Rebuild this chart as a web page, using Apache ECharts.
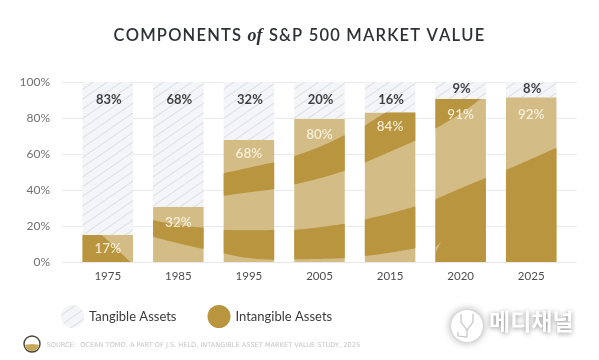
<!DOCTYPE html>
<html>
<head>
<meta charset="utf-8">
<title>Components of S&amp;P 500 Market Value</title>
<style>
  html, body { margin: 0; padding: 0; background: #fff; }
  #chart { width: 599px; height: 360px; }
</style>
<script src="https://cdn.jsdelivr.net/npm/echarts@6/dist/echarts.min.js"></script>
</head>
<body>
<div id="chart"></div>
<script>
const years = ["1975", "1985", "1995", "2005", "2015", "2020", "2025"];
const yTicks = [0, 20, 40, 60, 80, 100];

// drawn height of the gold part of each bar, the printed labels differ a little
const intangibleHeights = [15, 30.7, 67.8, 79.6, 83.1, 90.5, 91.5];
const tangibleHeights = [85, 69.3, 32.2, 20.4, 16.9, 9.5, 8.5];

const intangibleLabels = [17, 32, 68, 80, 84, 91, 92];
const tangibleLabels = [83, 68, 32, 20, 16, 9, 8];
const intangibleLabelAt = [7.2, 22, 60, 71, 75, 82, 82];
const tangibleLabelAt = [90, 90, 90, 90, 90, 96, 96];

// dark stripes per bar: [top edge, bottom edge], each edge is the value at left, middle, right
const stripes1975 = [[[25.2, 11.9, -1.4], [-3, -3, -3]]];
const stripes1985 = [[[23.3, 20.6, 19.1], [14, 10.4, 7.2]]];
const stripes1995 = [
  [[49.3, 52.4, 55.4], [36.8, 38.7, 40.5]],
  [[17.8, 17.6, 17.8], [4.8, 2.2, 1.3]],
];
const stripes2005 = [
  [[58.9, 64, 70.6], [43.1, 46.5, 50.7]],
  [[17.8, 19.3, 21.3], [1.5, 1.7, 2.2]],
];
const stripes2015 = [
  [[75.7, 84.7, 93], [55.2, 61.3, 67.4]],
  [[23.7, 27, 30.9], [3.3, 5.2, 7.6]],
];
const stripes2020 = [
  [[100, 100, 100], [74.2, 82.6, 92.9]],
  [[34.8, 40.9, 46.8], [0, 0, 0]],
];
const stripes2025 = [[[51.1, 57.2, 63.5], [0, 0, 0]]];
const allStripes = [stripes1975, stripes1985, stripes1995, stripes2005, stripes2015, stripes2020, stripes2025];

// the small light nick in the 2020 bar: top edge, bottom edge, share of bar width it reaches
const nick2020 = [[7.8, 9.6, 11.3], [5, 8, 11.3], 0.11];

const LIGHT = "#d3bc86";
const DARK = "#b9953f";

const hatch = {
  symbol: "rect",
  color: "#dbdfe5",
  dashArrayX: [1, 0],
  dashArrayY: [1, 6.5],
  rotation: -Math.PI / 5.2,
  symbolSize: 1,
};

// canvas text has no tracking, so the title letters get their own padded rich tokens
function tracked(str) {
  return Array.from(str).map((ch) => "{t|" + ch + "}").join("");
}

function edgeAt(edge, t) {
  const [a, b, c] = edge;
  return a * (1 - t) * (1 - 2 * t) + 4 * b * t * (1 - t) + c * t * (2 * t - 1);
}

function bandShape(api, idx, top, bottom, share) {
  const center = api.coord([idx, 0])[0];
  const width = 50.5;
  const left = center - width / 2;
  const barTop = intangibleHeights[idx];
  const y = (v) => api.coord([idx, Math.max(0, Math.min(barTop, v))])[1];
  const points = [];
  for (let i = 0; i <= 24; i++) {
    const t = i / 24;
    points.push([left + t * share * width, y(edgeAt(top, t))]);
  }
  for (let i = 24; i >= 0; i--) {
    const t = i / 24;
    points.push([left + t * share * width, y(edgeAt(bottom, t))]);
  }
  return points;
}

function renderStripes(params, api) {
  const idx = api.value(0);
  const children = allStripes[idx].map(([top, bottom]) => ({
    type: "polygon",
    shape: { points: bandShape(api, idx, top, bottom, 1) },
    style: { fill: DARK },
  }));
  if (idx === 5) {
    children.push({
      type: "polygon",
      shape: { points: bandShape(api, idx, nick2020[0], nick2020[1], nick2020[2]) },
      style: { fill: LIGHT },
    });
  }
  return { type: "group", children };
}

const chart = echarts.init(document.getElementById("chart"));

chart.setOption({
  animation: false,
  backgroundColor: "#fff",
  title: {
    text: tracked("COMPONENTS ") + "{o|of}{t| }" + tracked("S&P 500 MARKET VALUE"),
    left: "center",
    top: 22,
    textStyle: {
      rich: {
        t: { fontFamily: "Lato", fontSize: 16.5, fontWeight: 600, color: "#2f3234", padding: [0, 1.2, 0, 0] },
        o: { fontFamily: "Liberation Serif", fontSize: 18, fontStyle: "italic", fontWeight: "bold", color: "#2f3234", padding: [0, 1, 0, 0] },
      },
    },
  },
  grid: [
    { left: 62, width: 515, top: 82, height: 180 },
    { left: 72.5, width: 494, top: 82, height: 180 },
  ],
  xAxis: [
    { type: "category", gridIndex: 0, data: years, show: false },
    {
      type: "category",
      gridIndex: 1,
      data: years,
      axisLine: { show: false },
      axisTick: { show: false },
      axisLabel: { color: "#4d4d4d", fontFamily: "Lato", fontSize: 11.5, margin: 8 },
    },
  ],
  yAxis: [
    {
      type: "value",
      gridIndex: 0,
      min: 0,
      max: 100,
      interval: 20,
      axisLine: { show: false },
      axisTick: { show: false },
      axisLabel: {
        color: "#707070",
        fontFamily: "Lato",
        fontSize: 12,
        margin: 12,
        formatter: (v) => (yTicks.includes(v) ? v + "%" : ""),
      },
      splitLine: { lineStyle: { color: "#e9e9e9", width: 1 } },
    },
    { type: "value", gridIndex: 1, min: 0, max: 100, interval: 20, show: false },
  ],
  legend: {
    left: 56,
    top: 300,
    itemWidth: 23,
    itemHeight: 23,
    itemGap: 31,
    icon: "circle",
    data: [
      { name: "Tangible Assets" },
      { name: "Intangible Assets", itemStyle: { color: DARK } },
    ],
    textStyle: { color: "#3b3b3b", fontFamily: "Lato", fontSize: 13 },
  },
  series: [
    {
      name: "Intangible Assets",
      type: "bar",
      xAxisIndex: 1,
      yAxisIndex: 1,
      stack: "total",
      barWidth: 50.5,
      data: intangibleHeights,
      itemStyle: { color: LIGHT },
    },
    {
      name: "Tangible Assets",
      type: "bar",
      xAxisIndex: 1,
      yAxisIndex: 1,
      stack: "total",
      barWidth: 50.5,
      data: tangibleHeights,
      itemStyle: { color: "#f3f5f8", decal: hatch },
    },
    {
      type: "custom",
      xAxisIndex: 1,
      yAxisIndex: 1,
      silent: true,
      z: 3,
      renderItem: renderStripes,
      encode: { x: 0, y: 1 },
      data: years.map((year, i) => [i, intangibleHeights[i]]),
    },
    {
      type: "scatter",
      xAxisIndex: 1,
      yAxisIndex: 1,
      symbolSize: 0,
      z: 4,
      data: intangibleLabelAt,
      label: {
        show: true,
        position: "inside",
        formatter: (p) => intangibleLabels[p.dataIndex] + "%",
        color: "#fffbee",
        fontFamily: "Lato",
        fontWeight: 600,
        fontSize: 13.5,
      },
    },
    {
      type: "scatter",
      xAxisIndex: 1,
      yAxisIndex: 1,
      symbolSize: 0,
      z: 4,
      data: tangibleLabelAt,
      label: {
        show: true,
        position: "inside",
        offset: [1, 0],
        formatter: (p) => tangibleLabels[p.dataIndex] + "%",
        color: "#111",
        fontFamily: "Lato",
        fontWeight: "bold",
        fontSize: 13,
      },
    },
  ],
  graphic: [
    // small logo by the source line
    { type: "circle", shape: { cx: 32, cy: 344, r: 8 }, style: { fill: "#fff", stroke: "#4a4636", lineWidth: 1.4 } },
    { type: "sector", shape: { cx: 32, cy: 344, r: 7, r0: 0, startAngle: 0.1, endAngle: Math.PI - 0.1 }, style: { fill: "#c6a75c" } },
    {
      type: "text",
      left: 46.5,
      top: 342,
      style: {
        text: "SOURCE:  OCEAN TOMO, A PART OF J.S. HELD, INTANGIBLE ASSET MARKET VALUE STUDY, 2025",
        fill: "#c4c4c4",
        font: "6.6px 'DejaVu Sans'",
      },
    },
    // watermark
    {
      type: "circle",
      shape: { cx: 467, cy: 326, r: 16 },
      style: { fill: "#fff", shadowBlur: 9, shadowColor: "rgba(0,0,0,0.4)" },
    },
    {
      type: "polyline",
      shape: { points: [[461, 314], [461, 322], [467, 330], [473, 322], [473, 314]] },
      style: { fill: "none", stroke: "#c4c4c4", lineWidth: 1.2 },
    },
    {
      type: "polyline",
      shape: { points: [[467, 330], [467, 337], [458, 336], [458, 332]] },
      style: { fill: "none", stroke: "#c4c4c4", lineWidth: 1.2 },
    },
    {
      type: "text",
      left: 489,
      top: 310,
      style: {
        text: "메디채널",
        fill: "#fff",
        font: "bold 23px 'Noto Sans CJK KR'",
        textShadowBlur: 5,
        textShadowColor: "rgba(0,0,0,0.45)",
        textShadowOffsetY: 1,
        shadowBlur: 5,
        shadowColor: "rgba(0,0,0,0.45)",
        shadowOffsetY: 1,
      },
    },
  ],
});
</script>
</body>
</html>
